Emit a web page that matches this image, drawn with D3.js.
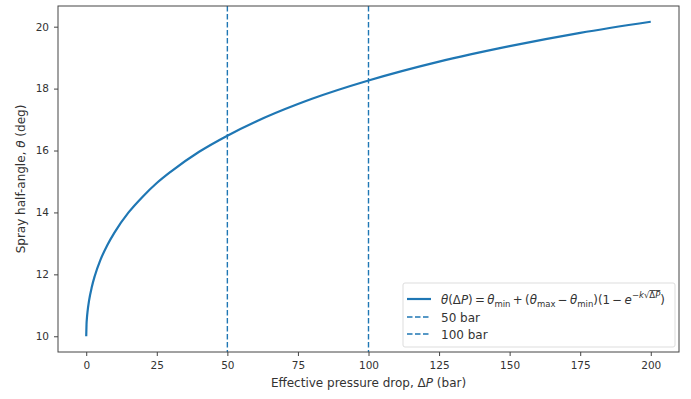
<!DOCTYPE html>
<html>
<head>
<meta charset="utf-8">
<script src="https://cdn.jsdelivr.net/npm/d3@7"></script>
<style>
  body { margin: 0; background: #fff; }
  text { font-family: "DejaVu Sans", sans-serif; fill: #333; }
</style>
</head>
<body>
<svg id="chart" width="691" height="399"></svg>
<script>
// values
var pressure = [0, 0.1, 0.25, 0.5, 1, 2, 3, 5, 7.5, 10, 15, 20, 25, 30, 40, 50, 60, 75, 80, 100, 125, 150, 175, 200];
var angle    = [10, 10.37, 10.59, 10.82, 11.15, 11.60, 11.94, 12.46, 12.95, 13.35, 14.00, 14.51, 14.95, 15.32, 15.96, 16.48, 16.93, 17.50, 17.67, 18.26, 18.87, 19.37, 19.80, 20.16];
var markers  = [50, 100];
var markerLabels = ["50 bar", "100 bar"];
var xTicks = [0, 25, 50, 75, 100, 125, 150, 175, 200];
var yTicks = [10, 12, 14, 16, 18, 20];

var blue = "#1f77b4";
var mLeft = 58, mRight = 679, mTop = 6, mBottom = 352;

var svg = d3.select("#chart");

var x = d3.scaleLinear().domain([-10, 210]).range([mLeft, mRight]);
var y = d3.scaleLinear().domain([9.492, 20.668]).range([mBottom, mTop]);

var pts = pressure.map(function(p, i) { return [p, angle[i]]; });

// curve
var line = d3.line()
    .x(function(d) { return x(d[0]); })
    .y(function(d) { return y(d[1]); })
    .curve(d3.curveMonotoneX);

svg.append("path")
    .datum(pts)
    .attr("d", line)
    .attr("fill", "none")
    .attr("stroke", blue)
    .attr("stroke-width", 2.2);

// reference lines
svg.selectAll(".vline")
    .data(markers)
  .enter().append("line")
    .attr("class", "vline")
    .attr("x1", function(d) { return x(d); })
    .attr("x2", function(d) { return x(d); })
    .attr("y1", mTop)
    .attr("y2", mBottom)
    .attr("stroke", blue)
    .attr("stroke-width", 1.4)
    .attr("stroke-dasharray", "5.5,2.5");

// axes
var xAxis = d3.axisBottom(x).tickValues(xTicks).tickSize(4).tickPadding(5.5);
var yAxis = d3.axisLeft(y).tickValues(yTicks).tickSize(4).tickPadding(5);

var gx = svg.append("g").attr("transform", "translate(0," + mBottom + ")").call(xAxis);
var gy = svg.append("g").attr("transform", "translate(" + mLeft + ",0)").call(yAxis);
[gx, gy].forEach(function(g) {
  g.select(".domain").remove();
  g.selectAll(".tick line").attr("stroke", "#444").attr("stroke-width", 1);
  g.selectAll(".tick text").style("font-size", "10.5px").attr("fill", "#333");
});

// frame
svg.append("rect")
    .attr("x", mLeft).attr("y", mTop)
    .attr("width", mRight - mLeft).attr("height", mBottom - mTop)
    .attr("fill", "none")
    .attr("stroke", "#444")
    .attr("stroke-width", 1);

// axis labels
var xl = svg.append("text")
    .attr("x", (mLeft + mRight) / 2)
    .attr("y", 387)
    .attr("text-anchor", "middle")
    .style("font-size", "12px");
xl.append("tspan").text("Effective pressure drop, Δ");
xl.append("tspan").style("font-style", "italic").text("P");
xl.append("tspan").text(" (bar)");

var yl = svg.append("text")
    .attr("transform", "translate(25," + ((mTop + mBottom) / 2) + ") rotate(-90)")
    .attr("text-anchor", "middle")
    .style("font-size", "12px");
yl.append("tspan").text("Spray half-angle, ");
yl.append("tspan").style("font-style", "italic").text("θ");
yl.append("tspan").text(" (deg)");

// legend
var lg = svg.append("g");
lg.append("rect")
    .attr("x", 403).attr("y", 283)
    .attr("width", 272).attr("height", 64)
    .attr("rx", 2)
    .attr("fill", "#fff")
    .attr("fill-opacity", 0.85)
    .attr("stroke", "#ddd");

var rows = [299, 317, 334];
lg.append("line")
    .attr("x1", 407).attr("x2", 431)
    .attr("y1", rows[0]).attr("y2", rows[0])
    .attr("stroke", blue).attr("stroke-width", 2.2);

markerLabels.forEach(function(lbl, i) {
  lg.append("line")
      .attr("x1", 407).attr("x2", 431)
      .attr("y1", rows[i + 1]).attr("y2", rows[i + 1])
      .attr("stroke", blue).attr("stroke-width", 1.4)
      .attr("stroke-dasharray", "5.5,2.5");
  lg.append("text")
      .attr("x", 441).attr("y", rows[i + 1] + 4.5)
      .style("font-size", "12px")
      .text(lbl);
});

// legend formula, built from tspans
var ft = lg.append("text")
    .attr("x", 441).attr("y", rows[0] + 4.5)
    .style("font-size", "11.8px");
var shift = 0;
function part(s, italic, size, dy) {
  var t = ft.append("tspan").text(s)
      .style("font-style", italic ? "italic" : "normal");
  if (size) t.style("font-size", size);
  var d = (dy || 0) + shift;
  if (d) t.attr("dy", d);
  shift = 0;
  return t;
}
function sub(s) {
  part(s, false, "8.5px", 3);
  shift = -3;
}
part("θ", true); part("(Δ"); part("P", true); part(")\u2009=\u2009");
part("θ", true); sub("min");
part("\u2009+\u2009("); part("θ", true); sub("max");
part("\u2009−\u2009"); part("θ", true); sub("min");
part(")(1\u2009−\u2009"); part("e", true);
part("−", false, "8.5px", -5.5);
part("k", true, "8.5px");
part("√", false, "8.5px");
part("Δ", false, "8.5px").style("text-decoration", "overline");
part("P", true, "8.5px").style("text-decoration", "overline");
part(")", false, null, 5.5);
</script>
</body>
</html>
